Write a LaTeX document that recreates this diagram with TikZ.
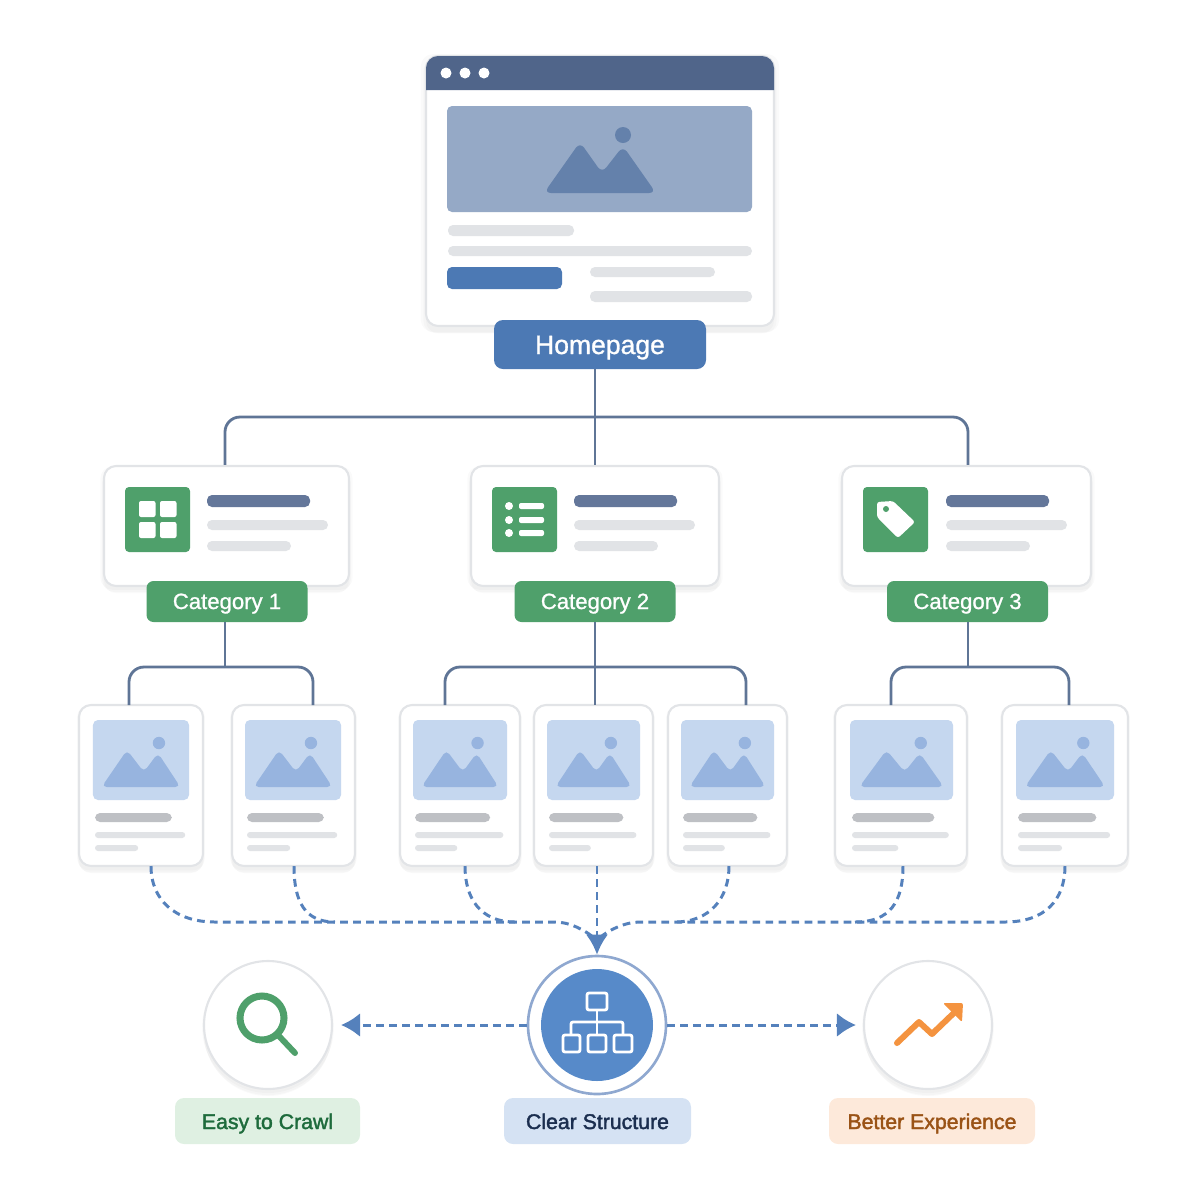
\documentclass[tikz,border=0pt]{standalone}
\usepackage{fontspec}
\setmainfont{Liberation Sans}
\newfontfamily\labelfont[FakeBold=1.0]{Liberation Sans}
\newfontfamily\goalfont[FakeBold=1.8]{Liberation Sans}
\usetikzlibrary{arrows.meta,positioning,shadows}

\definecolor{barnavy}{HTML}{50658A}
\definecolor{linkslate}{HTML}{5F7596}
\definecolor{cardedge}{HTML}{E2E4E7}
\definecolor{heroblue}{HTML}{95A9C6}
\definecolor{heromount}{HTML}{6481AB}
\definecolor{mainblue}{HTML}{4C79B4}
\definecolor{flowblue}{HTML}{5581BC}
\definecolor{hubblue}{HTML}{578AC9}
\definecolor{hubring}{HTML}{8FA8D0}
\definecolor{catgreen}{HTML}{4FA06B}
\definecolor{darkbar}{HTML}{64779A}
\definecolor{softbar}{HTML}{E1E3E6}
\definecolor{midbar}{HTML}{BEC0C4}
\definecolor{photoblue}{HTML}{C5D7EF}
\definecolor{photomount}{HTML}{97B4DF}
\definecolor{trendorange}{HTML}{F4933F}
\definecolor{crawlfill}{HTML}{DFF0E2}
\definecolor{crawltext}{HTML}{1E6B3C}
\definecolor{hubfill}{HTML}{D5E2F3}
\definecolor{hubtext}{HTML}{1B2E4F}
\definecolor{betterfill}{HTML}{FDE9DA}
\definecolor{bettertext}{HTML}{9A5316}

\begin{document}
\begin{tikzpicture}[
        softdrop/.style={
            drop shadow={opacity=0.018, shadow xshift=0cm, shadow yshift=-0.02cm, shadow scale=1.03, fill=black},
            drop shadow={opacity=0.018, shadow xshift=0cm, shadow yshift=-0.05cm, shadow scale=1.015, fill=black},
            drop shadow={opacity=0.02, shadow xshift=0cm, shadow yshift=-0.07cm, shadow scale=1.0, fill=black}},
        pagecard/.style={draw=cardedge, line width=0.6pt, fill=white, rectangle, rounded corners=0.12cm, softdrop},
        catcard/.style={pagecard, minimum height=1.20cm},
        leaf/.style={pagecard, minimum height=1.61cm},
        mainlabel/.style={rectangle, fill=mainblue, text=white, rounded corners=0.09cm, outer sep=0pt, minimum width=2.12cm, minimum height=0.49cm, text height=0.29cm, text depth=0.10cm, inner ysep=0pt, font=\fontsize{7.55}{9}\labelfont},
        catlabel/.style={rectangle, fill=catgreen, text=white, rounded corners=0.07cm, outer sep=0pt, minimum width=1.61cm, minimum height=0.41cm, text height=0.24cm, text depth=0.09cm, inner ysep=0pt, font=\fontsize{6.3}{8}\labelfont},
        goal/.style={rectangle, rounded corners=0.09cm, outer sep=0pt, minimum height=0.46cm, text height=0.24cm, text depth=0.08cm, inner ysep=0pt, font=\fontsize{6.05}{7}\goalfont},
        sidering/.style={circle, draw=cardedge, line width=0.6pt, fill=white, minimum size=1.28cm, softdrop},
        bar/.style={rounded corners=0.05cm},
        iconline/.style={line width=1.7pt, line cap=round, line join=round},
        hubline/.style={draw=white, line width=0.8pt, rounded corners=0.02cm},
        link/.style={draw=linkslate, line width=0.8pt, rounded corners=0.15cm},
        flow/.style={draw=flowblue, line width=0.85pt, dash pattern=on 2.2pt off 1.5pt},
        flowtip/.style={flow, -{Latex[length=0.2cm,width=0.22cm,flowblue]}},
        sidetip/.style={flow, -{Latex[length=0.19cm,width=0.24cm,flowblue]}}
    ]
        \useasboundingbox (0,0) rectangle (12,-12);

        % homepage window
        \node[pagecard, minimum width=3.48cm, minimum height=2.70cm] (browser) at (6.00,-1.91) {};
        \fill[barnavy] (4.26,-0.90) -- (4.26,-0.68) arc (180:90:0.12) -- (7.62,-0.56) arc (90:0:0.12) -- (7.74,-0.90) -- cycle;
        \foreach \x in {4.46,4.65,4.84}
            \fill[white] (\x,-0.73) circle (0.055);
        \fill[heroblue, bar] (4.47,-1.06) rectangle (7.52,-2.12);
        \fill[heromount] (6.23,-1.35) circle (0.08);
        \fill[heromount, rounded corners=0.07cm] (5.44,-1.93) -- (5.80,-1.42) -- (6.02,-1.73) -- (6.23,-1.46) -- (6.56,-1.93) -- cycle;
        \fill[softbar, bar] (4.48,-2.25) rectangle (5.74,-2.36);
        \fill[softbar, bar] (4.48,-2.46) rectangle (7.52,-2.56);
        \fill[mainblue, bar] (4.47,-2.67) rectangle (5.62,-2.89);
        \fill[softbar, bar] (5.90,-2.67) rectangle (7.15,-2.77);
        \fill[softbar, bar] (5.90,-2.91) rectangle (7.52,-3.02);
        \node[mainlabel] (homepage) at (6.00,-3.445) {Homepage};

        % category cards
        \foreach \n/\l/\r/\c/\i/\t/\e in {1/1.04/3.49/2.27/1.25/2.07/3.28, 2/4.71/7.19/5.95/4.92/5.74/6.95, 3/8.42/10.91/9.675/8.63/9.46/10.67} {
            \node[catcard, minimum width={(\r-\l)*1cm}] (catcard\n) at ({(\l+\r)/2},-5.26) {};
            \fill[catgreen, rounded corners=0.04cm] (\i,-4.87) rectangle ({\i+0.65},-5.52);
            \fill[darkbar, bar] (\t,-4.95) rectangle ({\t+1.03},-5.07);
            \fill[softbar, bar] (\t,-5.20) rectangle (\e,-5.30);
            \fill[softbar, bar] (\t,-5.41) rectangle ({\t+0.84},-5.51);
            \node[catlabel] (catlabel\n) at (\c,-6.015) {Category \n};
        }
        % icons of the cards
        \foreach \x/\y in {1.39/-5.01, 1.60/-5.01, 1.39/-5.22, 1.60/-5.22}
            \fill[white, rounded corners=0.02cm] (\x,\y) rectangle ({\x+0.165},{\y-0.16});
        \foreach \y in {-5.06,-5.20,-5.33} {
            \fill[white] (5.09,\y) circle (0.04);
            \fill[white, rounded corners=0.02cm] (5.19,{\y+0.03}) rectangle (5.44,{\y-0.03});
        }
        \fill[white, rounded corners=0.025cm] (8.77,-5.02) -- (8.93,-5.01) -- (9.15,-5.22) -- (8.98,-5.38) -- (8.77,-5.17) -- cycle;
        \fill[catgreen] (8.86,-5.09) circle (0.03);

        % leaf pages
        \foreach \n/\l/\r/\a/\b/\t/\f in {1/0.79/2.03/0.93/1.89/1.29/1.51, 2/2.32/3.55/2.45/3.41/3.13/2.94, 3/4.00/5.20/4.13/5.07/4.45/4.65, 4/5.34/6.53/5.47/6.40/5.95/5.97, 5/6.68/7.87/6.81/7.74/7.46/7.29, 6/8.35/9.67/8.50/9.53/8.91/9.03, 7/10.02/11.28/10.16/11.14/10.69/10.65} {
            \pgfmathsetmacro\w{\b-\a}
            \node[leaf, minimum width={(\r-\l)*1cm}] (leaf\n) at ({(\l+\r)/2},-7.855) {};
            \coordinate (top\n) at (\t,-7.05);
            \coordinate (foot\n) at (\f,-8.66);
            \fill[photoblue, bar] (\a,-7.20) rectangle (\b,-8.00);
            \fill[photomount] ({\a+0.687*\w},-7.43) circle (0.062);
            \fill[photomount, rounded corners=0.05cm] ({\a+0.09*\w},-7.87) -- ({\a+0.354*\w},-7.50) -- ({\a+0.53*\w},-7.72) -- ({\a+0.677*\w},-7.53) -- ({\a+0.91*\w},-7.87) -- cycle;
            \fill[midbar, bar] ({\a+0.02},-8.13) rectangle ({\a+0.02+0.80*\w},-8.22);
            \fill[softbar, rounded corners=0.03cm] ({\a+0.02},-8.32) rectangle ({\a+0.02+0.94*\w},-8.38);
            \fill[softbar, rounded corners=0.03cm] ({\a+0.02},-8.45) rectangle ({\a+0.02+0.45*\w},-8.51);
        }

        % tree lines
        \coordinate (busmain) at (5.95,-4.17);
        \coordinate (busone) at (2.25,-6.67);
        \coordinate (bustwo) at (5.95,-6.67);
        \coordinate (busthree) at (9.68,-6.67);
        \draw[link] (homepage.south -| catcard2.north) -- (catcard2.north);
        \draw[link] (catcard1.north -| busone) |- (busmain) -| (catcard3.north -| busthree);
        \draw[link] (catlabel1.south -| busone) -- (busone);
        \draw[link] (top1) |- (busone) -| (top2);
        \draw[link] (catlabel2.south) -- (top4);
        \draw[link] (top3) |- (bustwo) -| (top5);
        \draw[link] (catlabel3.south -| busthree) -- (busthree);
        \draw[link] (top6) |- (busthree) -| (top7);

        % bottom row
        \node[circle, draw=hubring, line width=0.75pt, fill=white, minimum size=1.38cm] (hub) at (5.97,-10.25) {};
        \node[circle, fill=hubblue, minimum size=1.12cm] (hubcore) at (hub) {};
        \node[sidering] (crawl) at (2.68,-10.25) {};
        \node[sidering] (better) at (9.28,-10.25) {};
        \node[goal, fill=crawlfill, text=crawltext, minimum width=1.85cm] (crawllabel) at (2.675,-11.21) {Easy to Crawl};
        \node[goal, fill=hubfill, text=hubtext, minimum width=1.87cm] (hublabel) at (5.975,-11.21) {Clear Structure};
        \node[goal, fill=betterfill, text=bettertext, minimum width=2.06cm] (betterlabel) at (9.32,-11.21) {Better Experience};

        % dashed flow
        \coordinate (merge) at (5.97,-9.40);
        \draw[flow] (foot1) .. controls (1.51,-9.00) and (1.75,-9.22) .. (2.15,-9.22) -- (5.55,-9.22) .. controls (5.70,-9.22) and (5.85,-9.30) .. (merge);
        \draw[flow] (foot2) .. controls (2.94,-9.02) and (3.05,-9.22) .. (3.35,-9.22);
        \draw[flow] (foot3) .. controls (4.65,-8.98) and (4.80,-9.22) .. (5.15,-9.22);
        \draw[flowtip] (foot4) -- (hub.north);
        \draw[flow] (foot5) .. controls (7.29,-8.98) and (7.10,-9.22) .. (6.75,-9.22);
        \draw[flow] (foot6) .. controls (9.03,-9.02) and (8.90,-9.22) .. (8.55,-9.22);
        \draw[flow] (foot7) .. controls (10.65,-9.00) and (10.45,-9.22) .. (10.05,-9.22) -- (6.40,-9.22) .. controls (6.25,-9.22) and (6.08,-9.30) .. (merge);
        \draw[sidetip, shorten >=0.08cm] (hub.west) -- (crawl.east);
        \draw[sidetip, shorten >=0.07cm] (hub.east) -- (better.west);

        % hub icon
        \draw[hubline] (5.87,-9.93) rectangle (6.07,-10.10);
        \draw[hubline] (5.63,-10.35) rectangle (5.80,-10.52);
        \draw[hubline] (5.88,-10.35) rectangle (6.06,-10.52);
        \draw[hubline] (6.14,-10.35) rectangle (6.32,-10.52);
        \draw[hubline] (5.97,-10.10) -- (5.97,-10.35);
        \draw[hubline] (5.71,-10.35) -- (5.71,-10.22) -- (6.23,-10.22) -- (6.23,-10.35);

        % magnifier
        \draw[catgreen, line width=2pt] (2.62,-10.18) circle (0.22);
        \draw[catgreen, iconline] (2.78,-10.35) -- (2.95,-10.53);

        % trend
        \draw[trendorange, iconline] (8.97,-10.43) -- (9.19,-10.22) -- (9.32,-10.34) -- (9.57,-10.10);
        \fill[trendorange, rounded corners=0.02cm] (9.43,-10.03) -- (9.63,-10.03) -- (9.62,-10.22) -- cycle;
    \end{tikzpicture}
\end{document}
